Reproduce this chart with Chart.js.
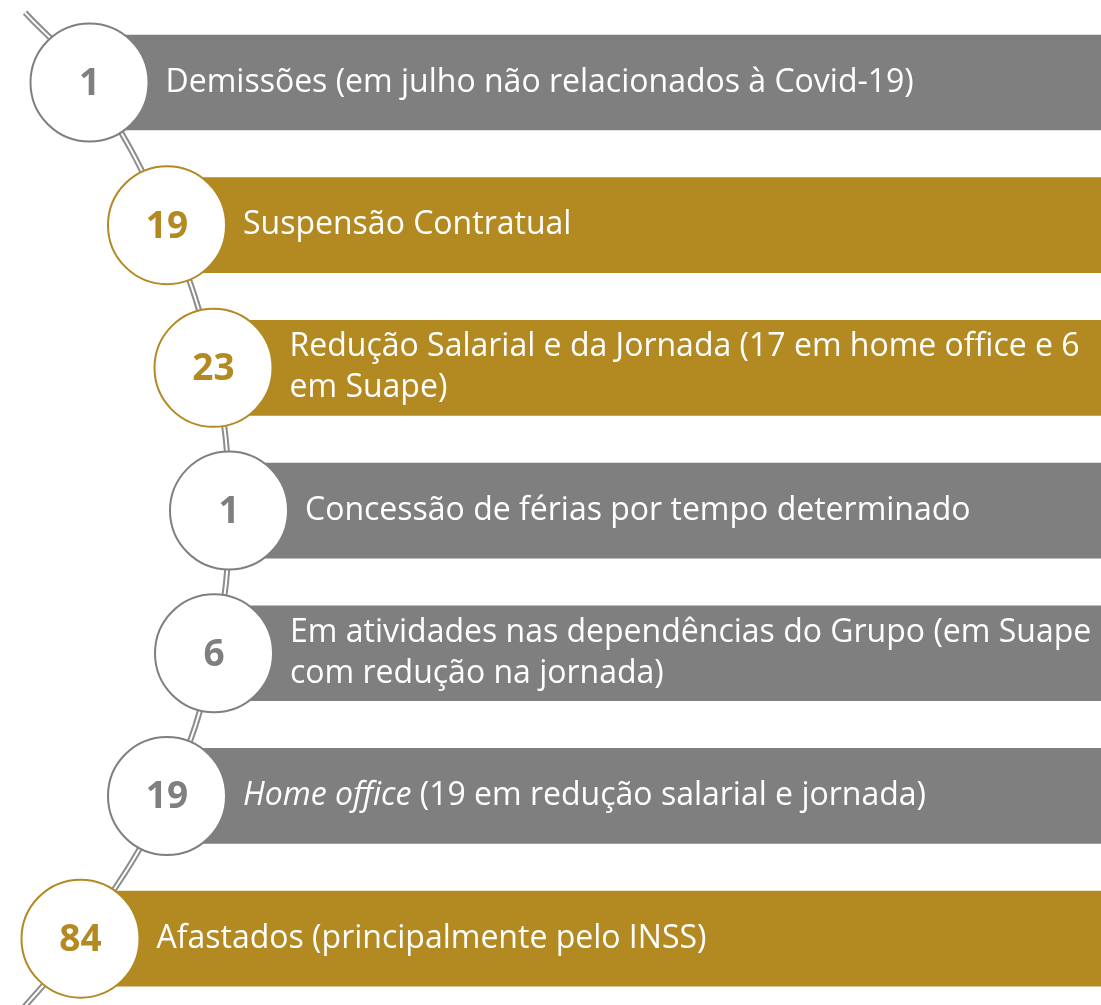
<!DOCTYPE html>
<html>
<head>
<meta charset="utf-8">
<script src="https://cdn.jsdelivr.net/npm/chart.js@4.4.1/dist/chart.umd.min.js"></script>
<style>
  html, body { margin: 0; padding: 0; background: #fff; }
  #wrap { width: 1101px; height: 1005px; }
</style>
</head>
<body>
<div id="wrap"><canvas id="timeline" width="1101" height="1005"></canvas></div>
<script>
// numbers shown in the circles, one per row
const counts = [1, 19, 23, 1, 6, 19, 84];

// row texts (one entry per wrapped line, _..._ = italic)
const labels = [
  ['Demissões (em julho não relacionados à Covid-19)'],
  ['Suspensão Contratual'],
  ['Redução Salarial e da Jornada (17 em home office e 6', 'em Suape)'],
  ['Concessão de férias por tempo determinado'],
  ['Em atividades nas dependências do Grupo (em Suape', 'com redução na jornada)'],
  ['_Home office_ (19 em redução salarial e jornada)'],
  ['Afastados (principalmente pelo INSS)']
];

// which rows are gold instead of grey
const highlight = [false, true, true, false, false, false, true];

// layout: where each circle sits on the curve (x-scale units)
const curveX = [89.5, 167, 213.5, 229, 214, 167, 80.5];

const GREY = '#7f7f7f';
const GOLD = '#b38922';
const rowColor = highlight.map(h => h ? GOLD : GREY);

const rows = counts.map((_, i) => i);

// the curved connector runs a bit past the first and last circle
const curvePts = [{ x: 25, y: -0.49 }]
  .concat(rows.map(i => ({ x: curveX[i], y: i })))
  .concat([{ x: 12, y: 6.58 }]);

// draws numbers in circles and the white text on the bands
const textPlugin = {
  id: 'rowText',
  afterDatasetsDraw(chart) {
    const { ctx, scales: { x, y } } = chart;
    ctx.save();
    rows.forEach(i => {
      const cx = x.getPixelForValue(curveX[i]);
      const cy = y.getPixelForValue(i);

      ctx.fillStyle = rowColor[i];
      ctx.font = 'bold 37px "Open Sans"';
      ctx.textAlign = 'center';
      ctx.textBaseline = 'middle';
      ctx.fillText(String(counts[i]), cx, cy + 2);

      ctx.fillStyle = '#ffffff';
      ctx.textAlign = 'left';
      const lines = labels[i];
      const lineH = 41;
      lines.forEach((line, k) => {
        const ly = cy + (k - (lines.length - 1) / 2) * lineH;
        let tx = cx + 76;
        line.split('_').forEach((seg, s) => {
          if (!seg) return;
          ctx.font = (s % 2 ? 'italic ' : '') + '32px "Open Sans"';
          ctx.fillText(seg, tx, ly);
          tx += ctx.measureText(seg).width;
        });
      });
    });
    ctx.restore();
  }
};

new Chart(document.getElementById('timeline'), {
  data: {
    datasets: [
      {
        type: 'scatter',
        label: 'circles',
        data: rows.map(i => ({ x: curveX[i], y: i })),
        pointRadius: 59,
        pointHoverRadius: 59,
        pointBackgroundColor: '#ffffff',
        pointBorderColor: rowColor,
        pointBorderWidth: 2,
        order: 0
      },
      {
        type: 'scatter',
        label: 'curve inner',
        data: curvePts,
        showLine: true,
        borderColor: '#ffffff',
        borderWidth: 2,
        pointRadius: 0,
        tension: 0.4,
        clip: false,
        order: 1
      },
      {
        type: 'scatter',
        label: 'curve outer',
        data: curvePts,
        showLine: true,
        borderColor: '#8c8c8c',
        borderWidth: 6,
        pointRadius: 0,
        tension: 0.4,
        clip: false,
        order: 2
      },
      {
        type: 'bar',
        label: 'bands',
        indexAxis: 'y',
        data: rows.map(i => ({ x: [curveX[i], 1101], y: i })),
        backgroundColor: rowColor,
        borderWidth: 0,
        barThickness: 95,
        order: 3
      }
    ]
  },
  options: {
    responsive: false,
    animation: false,
    events: [],
    layout: { padding: 0, autoPadding: false },
    scales: {
      x: { type: 'linear', min: 0, max: 1101, offset: false, display: false },
      y: { type: 'linear', min: -0.578, max: 6.465, reverse: true, offset: false, display: false }
    },
    plugins: {
      legend: { display: false },
      tooltip: { enabled: false }
    }
  },
  plugins: [textPlugin]
});
</script>
</body>
</html>
